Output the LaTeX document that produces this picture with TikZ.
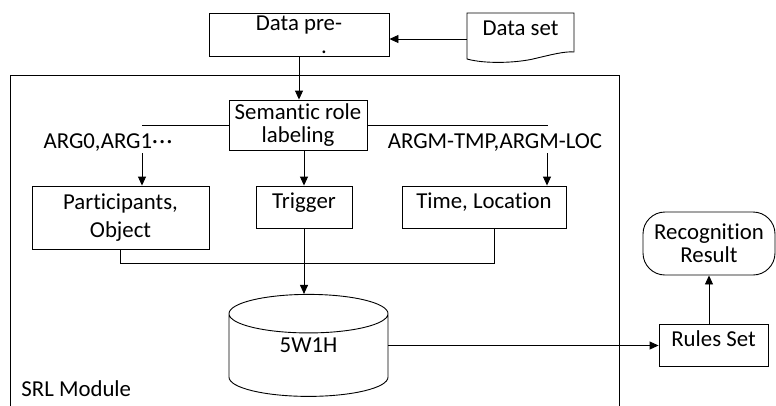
\documentclass[tikz,border=0pt]{standalone}
\usepackage{fontspec}
\setmainfont{Carlito}[Ligatures=CommonOff]
\usepackage{tikz}
\usetikzlibrary{arrows.meta,shapes}

\begin{document}
\begin{tikzpicture}[x=1bp,y=-1bp,line width=0.9bp,
  every node/.style={font=\fontsize{22.8bp}{23bp}\selectfont},
  box/.style={draw,rectangle,inner sep=2bp,align=center},
  tbox/.style={box,text height=15bp,text depth=13bp,inner ysep=7bp},
  arr/.style={-{Triangle[length=9bp,width=8bp]}},
  lbl/.style={fill=white,inner sep=2bp,text height=20bp,text depth=3bp}]
\useasboundingbox (0,0) rectangle (776,405);
% module frame, open at the bottom
\draw (10,410) -- (10,75) -- (619,75) -- (619,410);
\node (mod) at (21,396)[anchor=base west,inner sep=0pt] {SRL Module};
% input
\node (prep) at (299,34.5)[box,minimum width=180bp,minimum height=43bp] {Data pre-\\\hspace*{50bp}.};
\node (dset) at (520.5,28)[minimum width=107bp,inner sep=0pt] {Data set};
\draw (467,13) -- (574,13) -- (574,52) .. controls (565,51) and (550,55) .. (533,59)
  .. controls (515,63) and (485,64) .. (467,59) -- cycle;
% SRL module
\node (srl) at (298,125)[box,minimum width=138bp,minimum height=50bp] {Semantic role\\labeling};
\node (ppl) at (120.5,217.5)[box,minimum width=177bp,minimum height=63bp] {Participants,\\[5bp]Object};
\node (trig) at (304,207)[tbox,minimum width=96bp] {Trigger};
\node (tl) at (484,207)[tbox,minimum width=164bp] {Time, Location};
\node (db) at (308.5,358)[draw,cylinder,shape border rotate=90,aspect=0.6,minimum height=102bp,minimum width=159bp,text depth=26bp] {5W1H};
% output
\node (rules) at (713.5,345.5)[tbox,minimum width=109bp] {Rules Set};
\node (res) at (709,243.5)[box,rounded corners=22bp,minimum width=132bp,minimum height=63bp] {Recognition\\Result};
% connectors
\draw [arr] ([yshift=-11bp]dset.west) -- ([yshift=-11bp]dset.west -| prep.east);
\draw [arr] (prep.south) -- (prep.south |- srl.north);
\draw [arr] (srl.west) -| ([xshift=21.5bp]ppl.north);
\draw [arr] (srl.east) -| ([xshift=63bp]tl.north);
\draw [arr] (srl.south -| trig.north) -- (trig.north);
\draw (ppl.south) -- ++(0,14) -| ([xshift=10bp]tl.south);
\draw [arr] (trig.south) -- (trig.south |- db.north);
\draw [arr] (rules.west -| db.east) -- (rules.west);
\draw [arr] (rules.north -| res.south) -- (res.south);
\node (argl) at (108,139.5)[lbl] {ARG0,ARG1·\kern1.5bp·\kern1.5bp·};
\node (argr) at (495,139.5)[lbl] {ARGM-TMP,ARGM-LOC};
\end{tikzpicture}
\end{document}
